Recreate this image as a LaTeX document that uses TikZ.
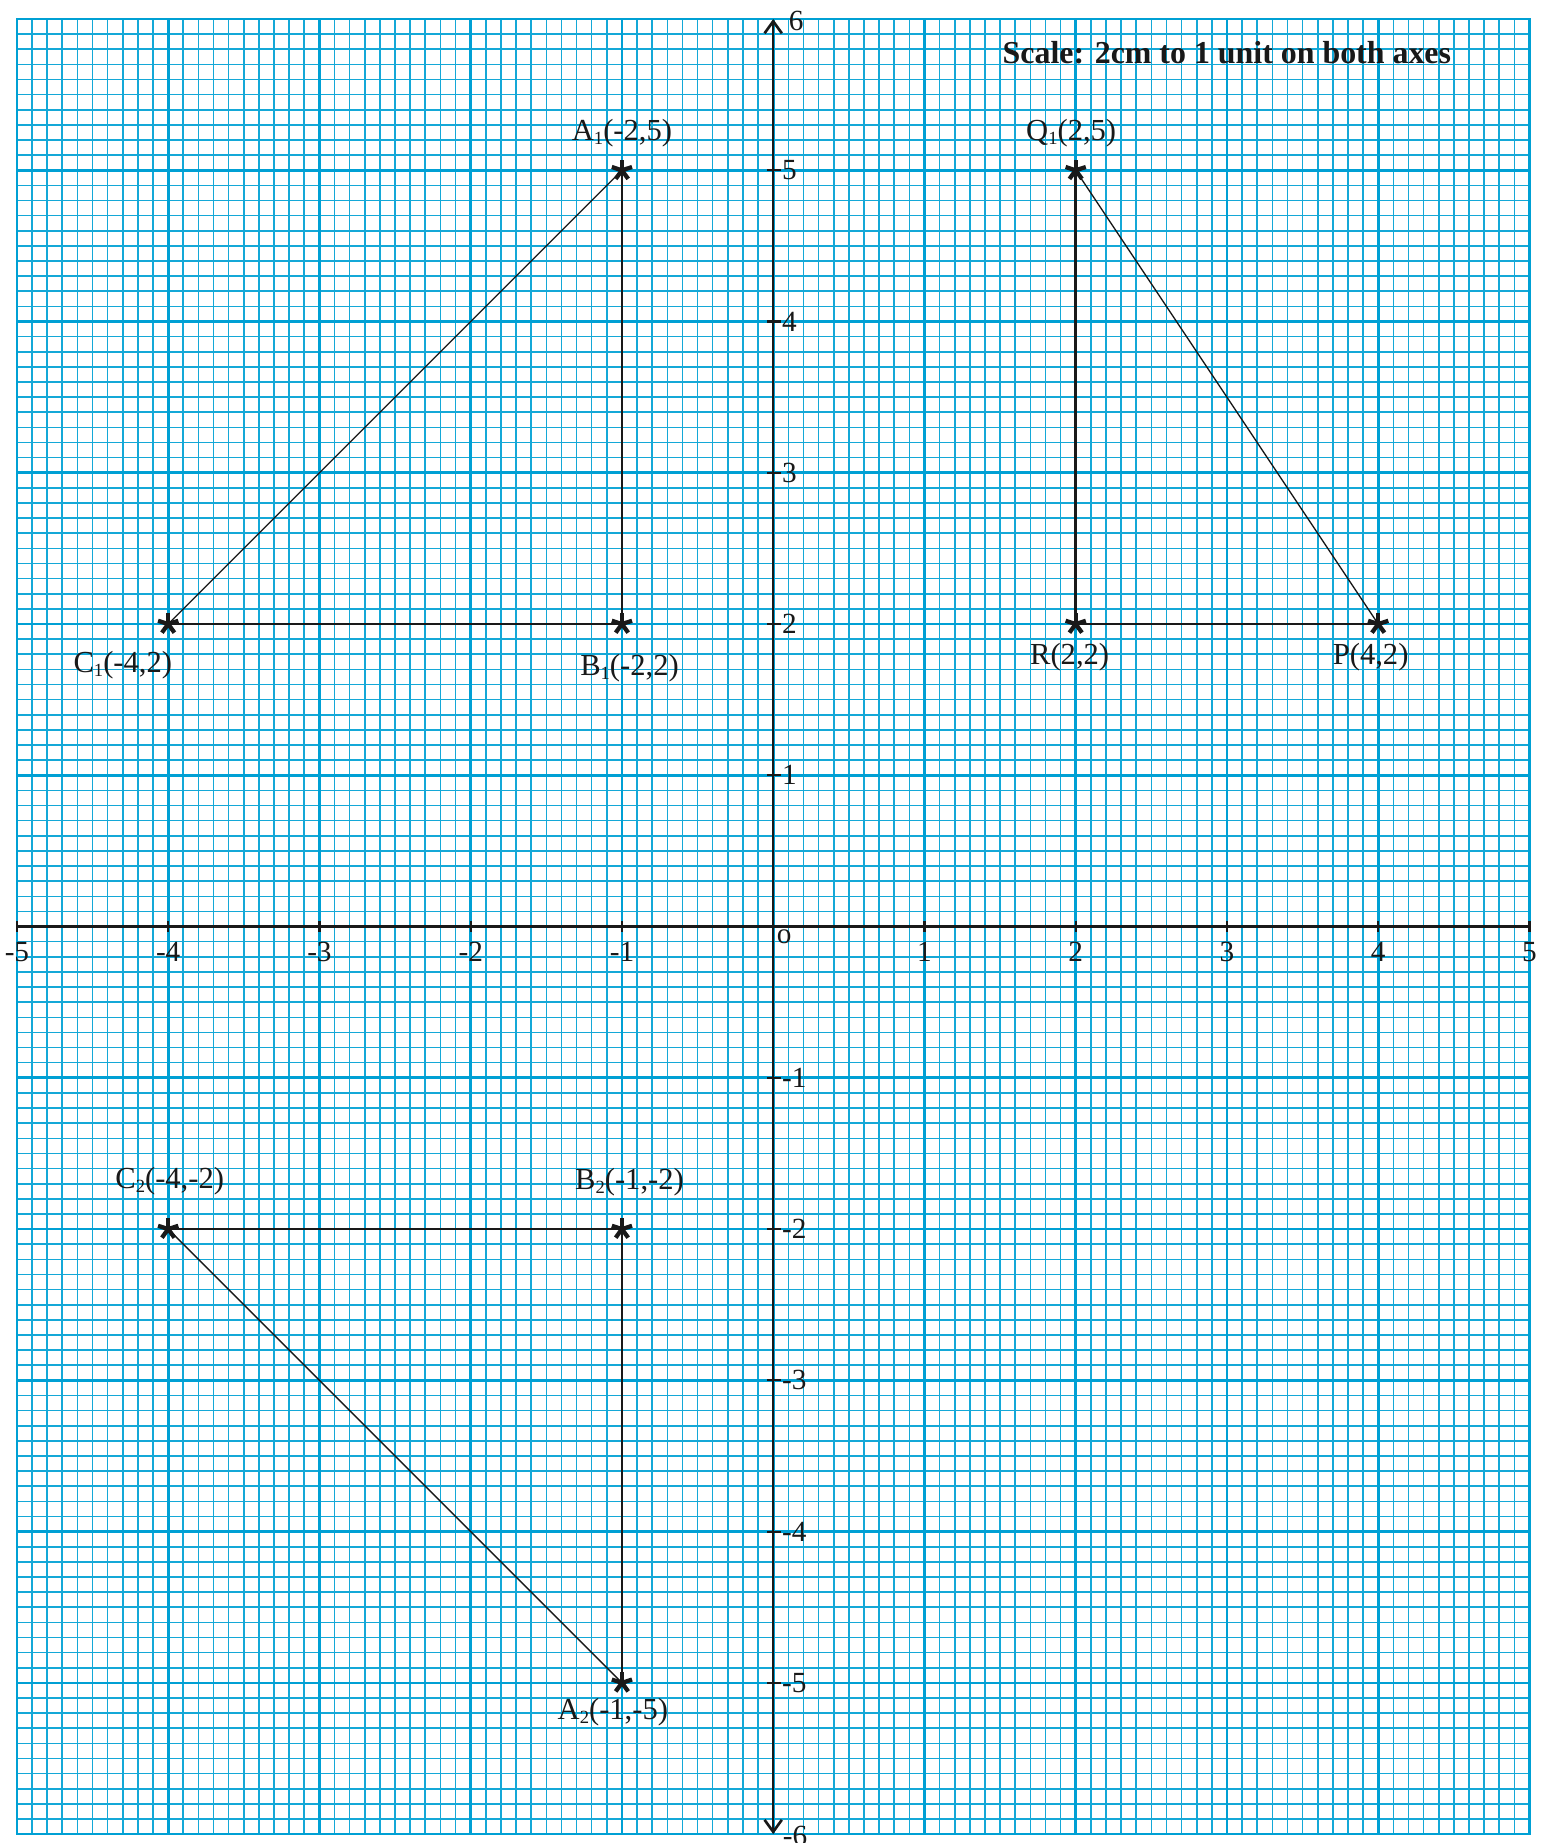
\documentclass[tikz,border=0pt]{standalone}
\usepackage{fontspec}
\setmainfont{Liberation Serif}
\usetikzlibrary{arrows.meta}
\definecolor{gridblue}{RGB}{0,160,212}
\definecolor{ink}{RGB}{25,25,25}
\newcommand{\lowsub}[1]{\raisebox{-0.3ex}{\fontsize{7}{8}\selectfont #1}}
\begin{document}
\begin{tikzpicture}[x=2cm,y=2cm,
  minorgrid/.style={gridblue!92, line width=0.6pt},
  majorgrid/.style={gridblue, line width=1pt},
  axisline/.style={ink, line width=0.8pt},
  edge/.style={ink, line width=1pt},
  thinedge/.style={ink, line width=0.5pt},
  lbl/.style={font=\fontsize{11.5}{13}\selectfont, inner sep=0pt, anchor=base, text=ink},
  num/.style={font=\fontsize{11}{13}\selectfont, inner sep=0pt, text=ink},
  pics/ast/.style={code={\foreach \a in {90,18,162,234,306}{\draw[ink,line width=1.6pt] (0,0) -- (\a:4pt);}}}
]
\useasboundingbox (-5.112,-6.059) rectangle (5.136,6.126);
\fill[white] (-5.112,-6.059) rectangle (5.136,6.126);
\draw[minorgrid] (-5,-6) grid[step=0.1] (5,6);
\draw[majorgrid] (-5,-6) grid[step=1] (5,6);
\draw[majorgrid] (-5,-6) rectangle (5,6);

% axes
\coordinate (xl) at (-5,0);
\coordinate (xr) at (5,0);
\coordinate (yb) at (0,-6);
\coordinate (yt) at (0,6);
\draw[axisline] (xl) -- (xr);
\draw[axisline, {Straight Barb[length=4.5pt,width=6.5pt,line width=1pt]}-{Straight Barb[length=4.5pt,width=6.5pt,line width=1pt]}] (yb) -- (yt);

\foreach \i [count=\k] in {-5,-4,-3,-2,-1,1,2,3,4,5}{
  \draw[axisline] (\i,0.04) -- (\i,-0.035);
  \node[num, anchor=north] (xn\k) at (\i,-0.1) {\i};
}
\foreach \j [count=\k] in {-5,-4,-3,-2,-1,1,2,3,4,5}{
  \draw[axisline] (-0.04,\j) -- (0.053,\j);
  \node[num, anchor=west] (yn\k) at (0.055,\j) {\j};
}
\node[num, anchor=west] (ytop) at (0.1,5.99) {6};
\node[num, anchor=west] (ybot) at (0.06,-6.01) {-6};
\node[num, anchor=north west] (orig) at (0.02,-0.02) {o};

\node[font=\bfseries\fontsize{12}{14}\selectfont, inner sep=0pt, anchor=base west, text=ink] (scale) at (1.514,5.706) {Scale: 2cm to 1 unit on both axes};

% points
\coordinate (A1) at (-1,5);
\coordinate (B1) at (-1,2);
\coordinate (C1) at (-4,2);
\coordinate (Q1) at (2,5);
\coordinate (R) at (2,2);
\coordinate (P) at (4,2);
\coordinate (C2) at (-4,-2);
\coordinate (B2) at (-1,-2);
\coordinate (A2) at (-1,-5);

\draw[edge] (A1) -- (B1);
\draw[edge] (B1) -- (C1);
\draw[thinedge] (C1) -- (A1);
\draw[edge] (Q1) -- (R);
\draw[edge] (R) -- (P);
\draw[thinedge] (Q1) -- (P);
\draw[edge] (C2) -- (B2);
\draw[edge] (B2) -- (A2);
\draw[thinedge] (C2) -- (A2);

\foreach \p in {A1,B1,C1,Q1,R,P,C2,B2,A2}{\pic at (\p) {ast};}

% labels
\node[lbl] (lA1) at (-1.0,5.20) {A\lowsub{1}(-2,5)};
\node[lbl] (lQ1) at (1.97,5.20) {Q\lowsub{1}(2,5)};
\node[lbl] (lB1) at (-0.95,1.66) {B\lowsub{1}(-2,2)};
\node[lbl] (lC1) at (-4.30,1.68) {C\lowsub{1}(-4,2)};
\node[lbl] (lR) at (1.96,1.73) {R(2,2)};
\node[lbl] (lP) at (3.95,1.73) {P(4,2)};
\node[lbl] (lC2) at (-3.99,-1.73) {C\lowsub{2}(-4,-2)};
\node[lbl] (lB2) at (-0.95,-1.74) {B\lowsub{2}(-1,-2)};
\node[lbl] (lA2) at (-1.06,-5.24) {A\lowsub{2}(-1,-5)};
\end{tikzpicture}
\end{document}
